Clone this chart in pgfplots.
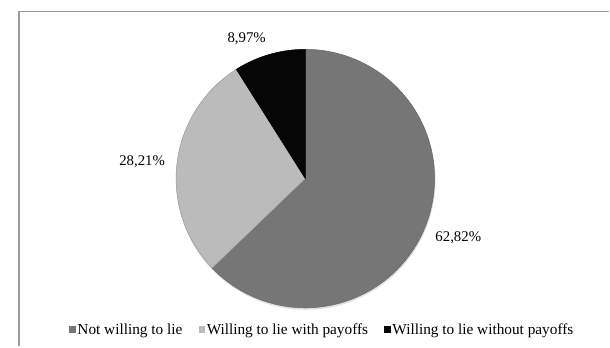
\documentclass[border=0pt]{standalone}
\usepackage{pgfplots}
\usepackage{pgfplotstable}
\pgfplotsset{compat=1.18}
\usepackage{fontspec}
\setmainfont{Liberation Serif}
\definecolor{sliceA}{HTML}{767676}
\definecolor{sliceB}{HTML}{BBBBBB}
\definecolor{sliceC}{HTML}{050505}
\definecolor{frameC}{HTML}{9C9C9C}
\newcommand{\lf}{\fontsize{15.5}{18}\selectfont}
\newcommand{\df}{\fontsize{15}{18}\selectfont}

\pgfplotstableread{
label value
a 62.82
b 28.21
c 8.97
}\piedata

\begin{document}
\pgfplotstablegetelem{0}{value}\of\piedata \let\vA\pgfplotsretval
\pgfplotstablegetelem{1}{value}\of\piedata \let\vB\pgfplotsretval
\pgfplotstablegetelem{2}{value}\of\piedata \let\vC\pgfplotsretval
\pgfmathsetmacro{\aA}{90-3.6*\vA}
\pgfmathsetmacro{\aB}{\aA-3.6*\vB}
\pgfmathsetmacro{\aC}{\aB-3.6*\vC}
\begin{tikzpicture}
\begin{axis}[
  x=1pt, y=1pt,
  xmin=0, xmax=610, ymin=0, ymax=351,
  hide axis, clip=false,
  legend columns=3,
  legend style={at={(axis cs:319,17)}, anchor=center, draw=none, fill=none,
    nodes={inner xsep=1.5pt},
    /tikz/every even column/.append style={column sep=15pt},
    inner sep=0pt},
  legend image code/.code={\fill[#1,draw=none] (0pt,-3.3pt) rectangle (6.7pt,3.3pt);},
]
% bounding box
\path (axis cs:0,0) rectangle (axis cs:610,351);
% frame
\draw[frameC, line width=1.6pt] (axis cs:11.8,0) -- (axis cs:11.8,339.4) -- (axis cs:610,339.4);
% shadow
\addplot[forget plot, fill=black!12, draw=none, domain=0:360, samples=120, variable=\t]
  ({302.5+131.5*cos(\t)},{168.5+131.5*sin(\t)}) -- cycle;
% slices
\addplot[fill=sliceA, draw=black!60, line width=0.5pt, domain=\aA:90, samples=100, variable=\t]
  ({302+131*cos(\t)},{170+131*sin(\t)}) -- (axis cs:302,170) -- cycle;
\addlegendentry{\lf Not willing to lie}
\addplot[fill=sliceB, draw=black!40, line width=0.5pt, domain=\aB:\aA, samples=60, variable=\t]
  ({302+131*cos(\t)},{170+131*sin(\t)}) -- (axis cs:302,170) -- cycle;
\addlegendentry{\lf Willing to lie with payoffs}
\addplot[fill=sliceC, draw=black, line width=0.5pt, domain=\aC:\aB, samples=30, variable=\t]
  ({302+131*cos(\t)},{170+131*sin(\t)}) -- (axis cs:302,170) -- cycle;
\addlegendentry{\lf Willing to lie without payoffs}
% data labels
\node[anchor=base, font=\df, inner sep=0pt] at (axis cs:242.5,308) {8,97\%};
\node[anchor=base, font=\df, inner sep=0pt] at (axis cs:136.5,183) {28,21\%};
\node[anchor=base, font=\df, inner sep=0pt] at (axis cs:457,106) {62,82\%};
\end{axis}
\end{tikzpicture}
\end{document}
